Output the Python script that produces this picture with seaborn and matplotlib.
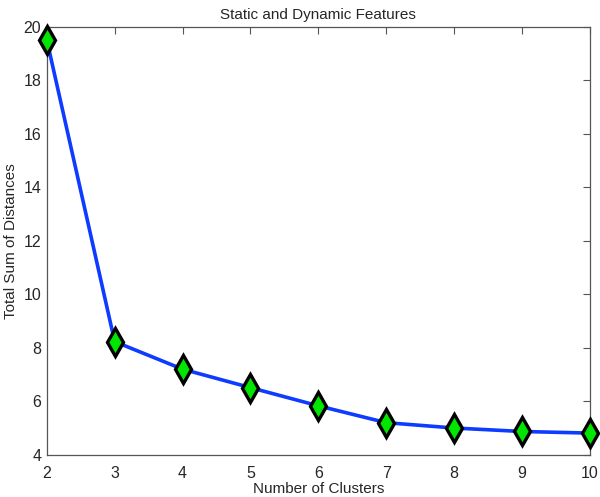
import matplotlib
matplotlib.use('Agg')
import matplotlib.pyplot as plt
import pandas as pd
import seaborn as sns

# Data
clusters = [2, 3, 4, 5, 6, 7, 8, 9, 10]
distances = [19.51, 8.23, 7.2, 6.51, 5.83, 5.2, 5.0, 4.87, 4.81]

df = pd.DataFrame({'Number of Clusters': clusters, 'Total Sum of Distances': distances})

sns.set_style('white')
plt.rcParams['font.family'] = ['Liberation Sans', 'DejaVu Sans']

fig = plt.figure(figsize=(6, 4.97), dpi=100)
ax = fig.add_axes([0.078, 0.085, 0.905, 0.861])

sns.lineplot(data=df, x='Number of Clusters', y='Total Sum of Distances', ax=ax,
             color='#0d3bff', linewidth=2.6, marker='d', markersize=14,
             markerfacecolor='#00e600', markeredgecolor='black', markeredgewidth=2.4,
             clip_on=False, zorder=3)

ax.set_xlim(2, 10)
ax.set_ylim(4, 20)
ax.set_xticks(range(2, 11))
ax.set_yticks(range(4, 21, 2))
ax.tick_params(direction='in', top=True, right=True, length=5, width=0.8,
               color='#555555', labelsize=11.5)
ax.tick_params(axis='x', pad=8)
ax.tick_params(axis='y', pad=4)
for s in ax.spines.values():
    s.set_visible(True)
    s.set_color('#555555')
    s.set_linewidth(0.9)

ax.set_title('Static and Dynamic Features', fontsize=11, pad=6)
ax.set_xlabel('Number of Clusters', fontsize=11, labelpad=1)
ax.set_ylabel('Total Sum of Distances', fontsize=11, labelpad=4)

fig.savefig('out.png', dpi=100)
plt.close()
